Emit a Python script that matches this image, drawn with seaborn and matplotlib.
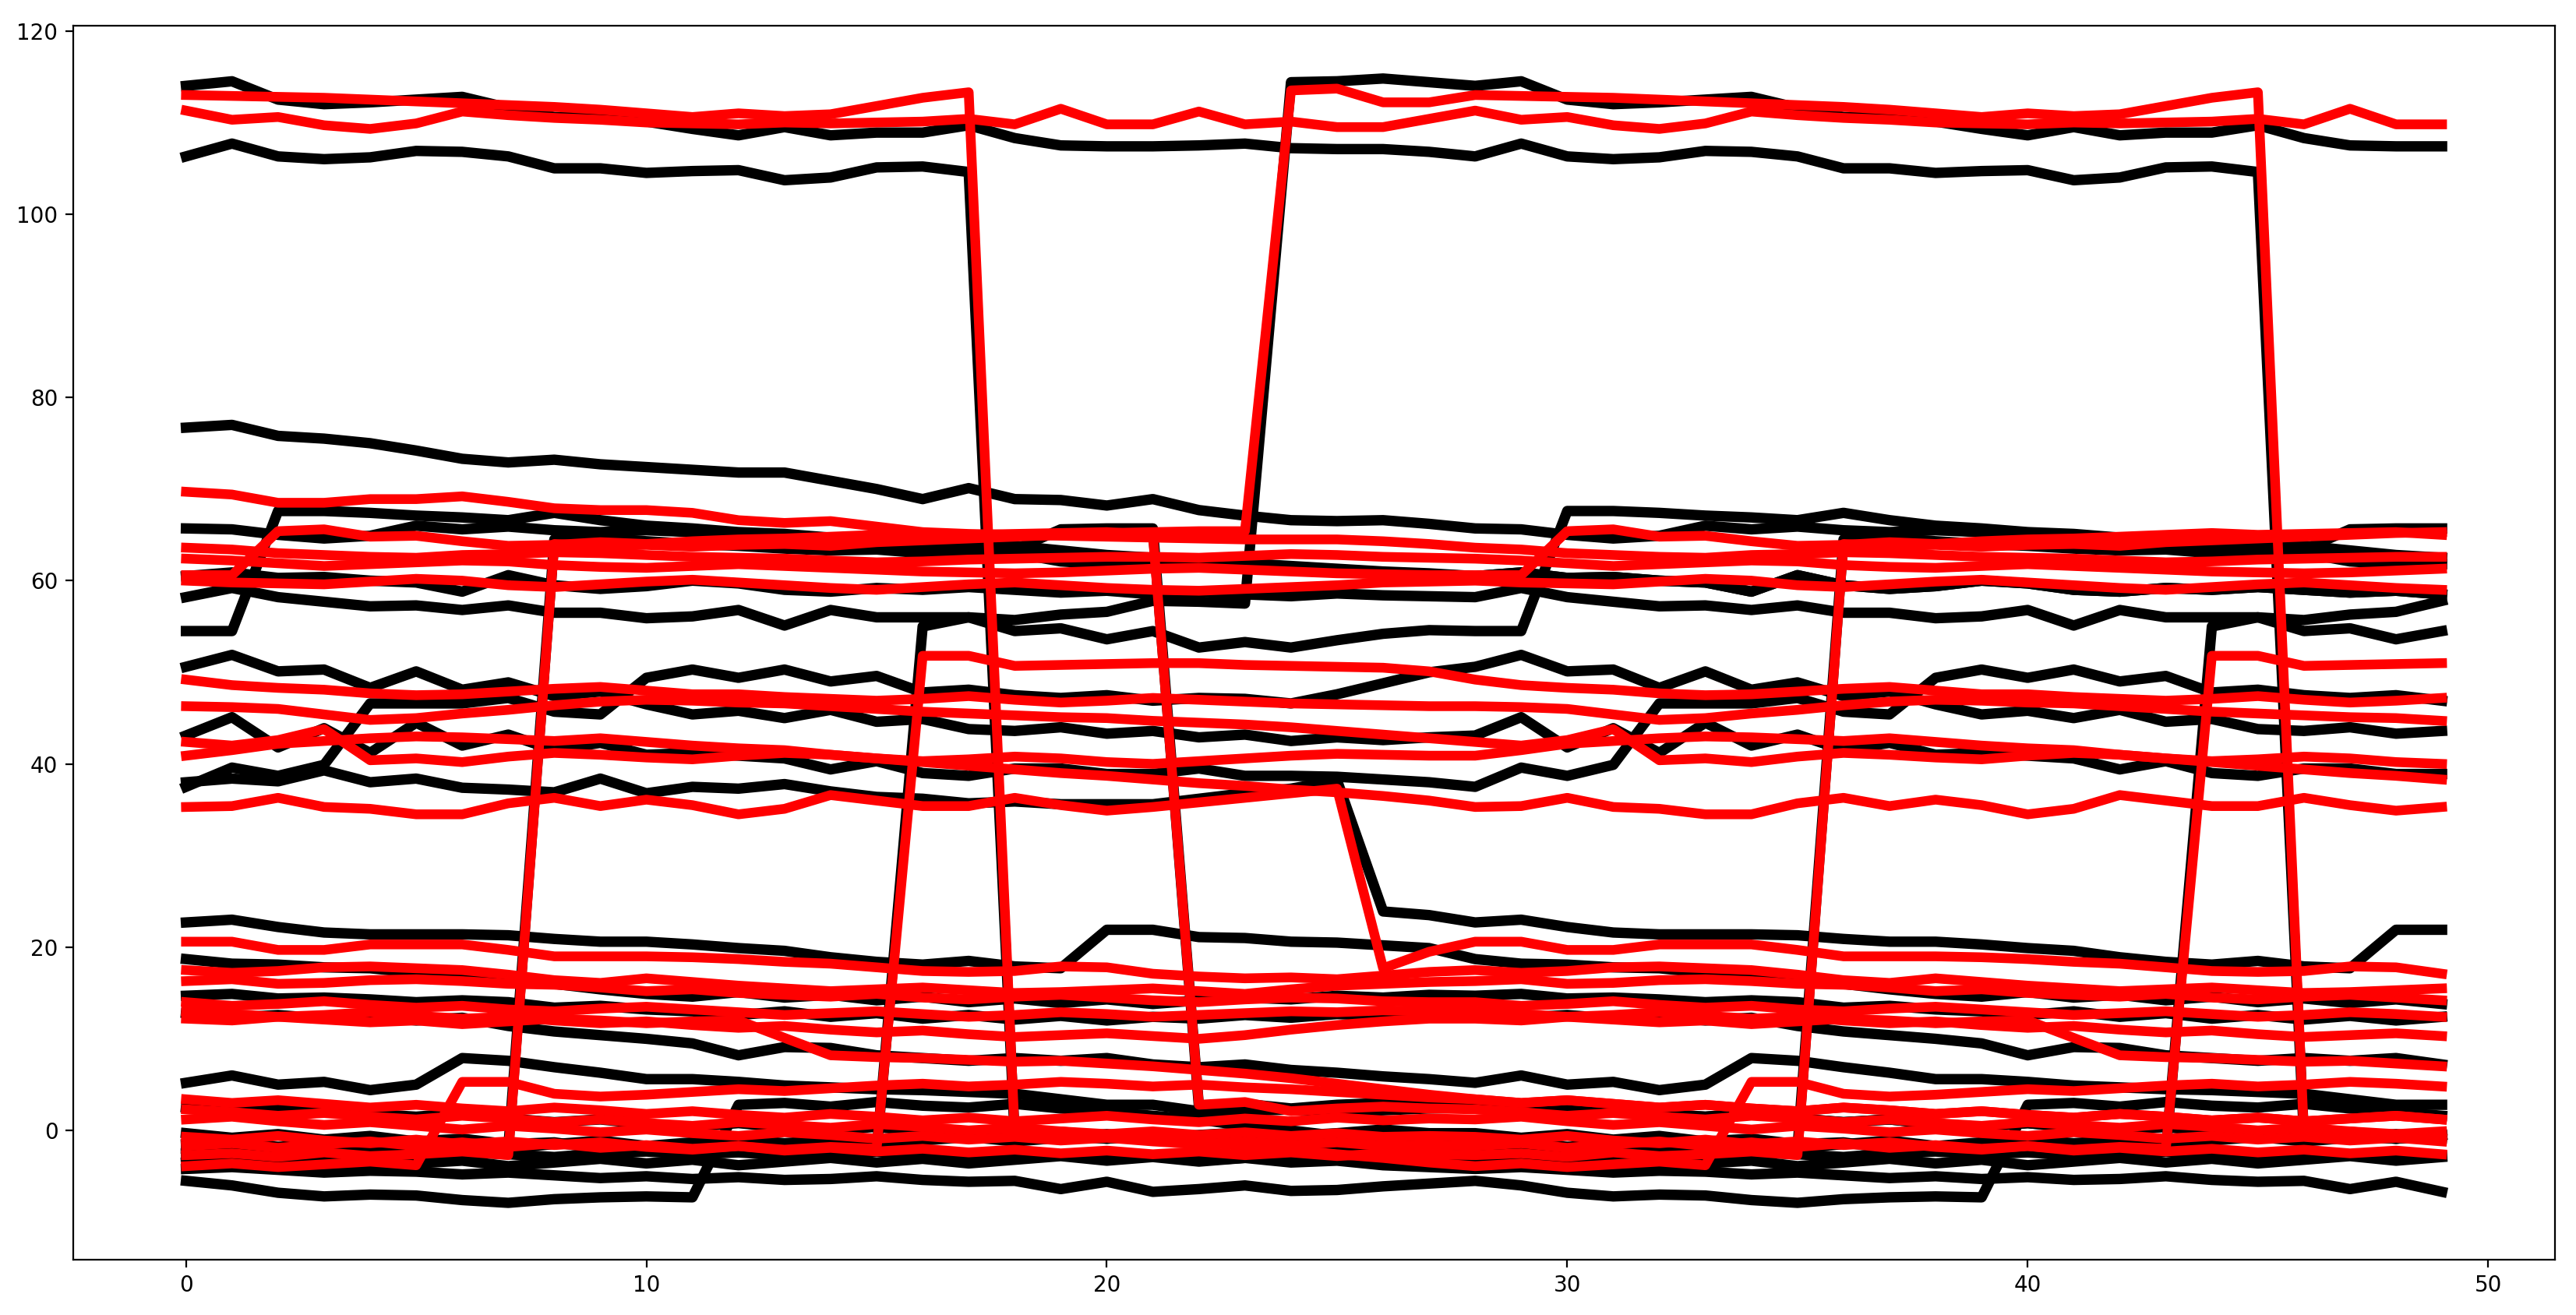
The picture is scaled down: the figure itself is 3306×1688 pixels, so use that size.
import pandas as pd
import numpy as np
import matplotlib
matplotlib.use("Agg")
import matplotlib.pyplot as plt
import seaborn as sns

# x runs 0..49. The picture repeats after 28 steps: in the second cycle each
# line follows the first-cycle path of the line named as its successor.
x = list(range(50))
CYCLE = 28

# ---- black lines, first cycle (x = 0..27) ----
b_top1 = [114.0,114.5,112.5,112.0,112.2,112.5,112.8,111.6,110.6,110.5,110.1,109.3,108.6,109.5,108.6,108.9,108.9,109.7,108.3,107.5,107.4,107.4,107.5,107.7,107.2,107.1,107.1,106.8]
b_top2 = [106.3,107.7,106.3,106.0,106.2,106.9,106.8,106.3,105.0,105.0,104.5,104.7,104.8,103.7,104.0,105.1,105.2,104.6,-0.7,-0.4,-0.9,-0.5,-0.8,-0.6,-1.0,-1.3,-1.1,-1.4]
b_x1 = [-2.5,-2.3,-2.6,-2.2,-2.5,-2.8,-2.4,-2.6,-2.9,-2.5,-2.3,-2.6,-2.4,-2.7,-2.5,-2.3,55.0,56.0,55.7,56.3,56.6,57.8,57.7,57.5,114.4,114.5,114.8,114.4]
b_76 = [76.7,77.0,75.8,75.5,75.0,74.2,73.3,72.9,73.2,72.7,72.4,72.1,71.8,71.8,70.9,70.0,68.9,70.1,68.9,68.8,68.2,68.9,67.7,67.1,66.6,66.5,66.6,66.2]
b_65 = [65.7,65.6,65.0,64.6,64.9,66.0,65.6,65.9,65.5,65.3,65.5,65.3,65.1,64.4,64.1,63.8,63.5,63.6,63.8,63.3,62.8,62.5,62.2,61.9,61.6,61.3,61.0,60.8]
b_j4 = [-2.0,-2.2,-1.8,-2.3,-2.0,-1.7,-2.1,-2.0,64.5,64.6,64.3,64.0,63.8,63.5,63.3,63.4,63.0,62.8,63.4,65.6,65.7,65.7,2.6,2.9,2.4,2.8,3.0,2.7]
b_54 = [54.5,54.5,67.6,67.6,67.4,67.1,66.9,66.6,67.4,66.6,66.0,65.7,65.3,65.1,64.7,64.3,63.8,63.6,63.0,62.1,61.8,61.8,61.5,62.0,61.5,61.2,60.9,60.7]
b_60 = [60.5,60.9,60.3,60.4,60.0,59.8,58.8,60.6,59.5,59.1,59.4,60.0,59.7,59.0,58.8,59.2,59.0,59.3,59.0,58.7,58.9,58.5,58.8,58.5,58.3,58.6,58.4,58.3]
b_58 = [58.2,59.2,58.2,57.7,57.2,57.3,56.8,57.3,56.5,56.5,55.9,56.1,56.8,55.1,56.8,56.0,56.0,56.0,54.5,54.8,53.6,54.5,52.7,53.3,52.7,53.5,54.2,54.6]
b_50 = [50.6,51.9,50.1,50.3,48.3,50.1,48.1,48.9,47.4,47.9,46.5,45.4,45.8,45.0,45.9,44.6,44.9,43.8,43.6,44.0,43.3,43.6,42.9,43.2,42.5,42.9,42.6,42.9]
b_43 = [43.1,45.1,41.8,43.9,41.2,44.5,42.0,43.2,41.5,42.3,41.0,41.2,40.9,40.6,39.4,40.3,39.0,38.7,39.5,39.5,38.9,38.9,39.5,38.7,38.7,38.6,38.3,38.0]
b_381 = [38.0,38.4,38.1,39.3,38.0,38.4,37.4,37.2,36.9,38.4,36.8,37.5,37.3,37.8,37.0,36.4,36.2,35.7,35.9,35.6,35.6,35.6,36.2,36.8,37.3,38.2,23.9,23.5]
b_382 = [37.5,39.6,38.7,39.9,46.6,46.6,46.6,47.2,45.7,45.4,49.4,50.3,49.4,50.3,49.0,49.6,47.8,48.1,47.5,47.2,47.5,46.9,47.2,47.1,46.6,47.6,48.8,50.0]
b_22 = [22.7,23.0,22.2,21.6,21.4,21.4,21.4,21.3,20.9,20.6,20.6,20.3,19.9,19.6,18.9,18.4,18.1,18.5,17.9,17.7,21.9,21.9,21.1,21.0,20.6,20.5,20.2,19.9]
b_187 = [18.7,18.2,18.1,17.8,17.7,17.2,17.0,16.8,16.0,15.4,14.9,14.6,15.1,14.5,14.8,14.2,14.6,14.0,14.4,13.9,14.3,13.8,14.2,14.5,14.3,14.7,14.5,14.8]
b_147 = [14.7,14.9,14.4,14.5,14.3,14.0,14.2,14.0,13.4,13.6,13.2,13.0,12.6,13.0,12.4,12.8,12.2,12.6,12.1,12.5,12.0,12.4,12.2,12.6,12.3,12.7,12.5,12.8]
b_128 = [12.8,12.3,12.6,12.2,12.5,12.0,12.3,11.4,10.8,10.4,10.0,9.5,8.2,9.1,9.0,8.2,7.9,7.6,7.9,7.6,7.9,7.2,6.9,7.2,6.6,6.3,5.9,5.6]
b_52 = [5.2,6.0,5.0,5.3,4.4,5.0,7.9,7.6,6.9,6.3,5.6,5.6,5.3,4.9,4.7,4.5,4.4,4.2,4.0,3.4,2.8,2.8,2.1,2.1,2.3,2.0,2.2,2.4]
b_25 = [2.5,2.0,2.6,2.2,1.8,1.5,1.9,1.3,0.9,1.2,0.7,0.4,0.8,0.3,0.0,0.4,-0.2,-0.5,-0.1,-0.6,-0.9,-0.5,-1.0,-1.4,-1.1,-1.6,-1.9,-2.3]
b_m15 = [-1.5,-1.2,-1.8,-1.4,-2.0,-1.6,-1.3,-1.9,-1.5,-1.1,-1.7,-1.3,-0.9,-1.4,-1.0,-1.5,-1.1,-0.7,-1.2,-0.8,-0.4,-0.9,-0.5,-0.2,-0.6,-0.3,0.1,-0.3]
b_m03 = [-0.3,-0.8,-0.4,-1.0,-0.6,-1.2,-0.9,-1.5,-1.3,-2.0,-1.8,-2.2,-2.4,-2.0,-2.6,-2.3,-2.8,-2.5,-3.0,-2.6,-3.1,-2.8,-3.3,-3.0,-3.5,-3.3,-3.8,-4.0]
b_m35 = [-3.5,-3.2,-3.8,-3.4,-3.0,-3.6,-3.3,-3.9,-3.5,-3.1,-3.6,-3.2,-3.8,-3.4,-3.0,-3.5,-3.1,-3.6,-3.2,-2.8,-3.3,-2.9,-3.4,-3.0,-2.7,-3.1,-2.8,-3.3]
b_m42 = [-4.2,-4.0,-4.3,-4.6,-4.4,-4.5,-4.8,-4.6,-4.9,-5.2,-5.0,-5.3,-5.1,-5.4,-5.3,-5.0,-5.4,-5.6,-5.5,-6.4,-5.6,-6.7,-6.4,-6.0,-6.6,-6.5,-6.1,-5.8]
b_m55 = [-5.5,-6.0,-6.8,-7.2,-7.0,-7.1,-7.6,-7.9,-7.5,-7.3,-7.2,-7.3,2.8,3.0,2.6,3.1,2.7,2.5,2.9,2.4,2.0,1.6,1.2,0.5,0.0,-0.6,-1.2,-1.7]

black_lines = [
    ("top1", b_top1, "top2"), ("top2", b_top2, "m15"), ("x1", b_x1, "top1"),
    ("76", b_76, "65"), ("65", b_65, "60"), ("j4", b_j4, "25"),
    ("54", b_54, "60"), ("60", b_60, "58"), ("58", b_58, "54"),
    ("50", b_50, "43"), ("43", b_43, "382"), ("381", b_381, "22"),
    ("382", b_382, "50"), ("22", b_22, "187"), ("187", b_187, "147"),
    ("147", b_147, "128"), ("128", b_128, "52"), ("52", b_52, "25"),
    ("25", b_25, "x1"), ("m15", b_m15, "m03"), ("m03", b_m03, "m42"),
    ("m35", b_m35, "m35"), ("m42", b_m42, "m55"), ("m55", b_m55, "j4"),
]

# ---- red lines, first cycle (x = 0..27) ----
r_top1 = [113.0,112.9,112.8,112.7,112.5,112.3,112.1,111.9,111.7,111.4,111.0,110.6,111.0,110.7,110.9,111.8,112.7,113.3,-0.4,-0.1,-0.6,-0.9,-1.3,-1.7,-2.1,-2.6,-3.0,-3.5]
r_top2 = [111.3,110.3,110.6,109.7,109.3,109.9,111.2,110.8,110.5,110.3,110.0,109.9,109.8,110.0,109.9,110.0,110.1,110.4,109.8,111.5,109.8,109.8,111.2,109.8,110.1,109.5,109.5,110.4]
r_x1 = [-2.7,-2.5,-2.9,-2.4,-2.8,-2.6,-2.3,-2.7,64.0,63.8,63.9,63.7,63.9,64.0,63.8,64.2,64.4,64.6,64.8,65.0,65.2,65.3,65.4,65.4,113.5,113.7,112.2,112.2]
r_69 = [69.7,69.4,68.5,68.5,68.9,68.9,69.2,68.6,67.9,67.7,67.7,67.4,66.6,66.3,66.5,65.9,65.3,65.1,65.0,64.9,64.8,64.7,64.6,64.5,64.5,64.5,64.3,64.0]
r_636 = [63.6,63.4,63.0,62.8,62.6,62.5,62.8,62.9,63.1,63.0,62.8,62.6,62.5,62.4,62.2,62.0,62.1,62.3,62.4,62.5,62.6,62.6,62.5,62.7,62.9,62.8,62.6,62.5]
r_624 = [62.4,62.2,61.9,61.6,61.8,62.0,62.2,62.1,61.7,61.5,61.4,61.6,61.8,61.6,61.4,61.2,61.0,60.9,60.8,60.9,61.1,61.3,61.4,61.2,61.0,60.8,60.7,60.6]
r_j1 = [60.6,60.6,65.4,65.6,64.8,64.9,64.3,63.8,63.9,64.2,64.0,64.3,64.5,64.6,64.8,65.0,65.2,65.0,65.1,65.2,65.3,65.0,2.8,3.1,2.1,2.4,2.6,2.4]
r_600 = [60.0,59.8,59.7,59.6,59.9,60.2,60.0,59.5,59.3,59.6,59.9,60.1,59.8,59.5,59.2,59.0,59.3,59.6,59.8,59.5,59.2,59.0,58.9,59.1,59.3,59.5,59.8,59.9]
r_515 = [-1.7,-1.4,-1.9,-1.5,-1.2,-1.7,-1.3,-1.8,-1.4,-1.9,-1.6,-2.0,-1.7,-2.1,-1.8,-2.0,51.8,51.8,50.7,50.8,50.9,51.0,51.0,50.8,50.7,50.6,50.5,50.1]
r_492 = [49.2,48.6,48.3,48.1,47.7,47.5,47.6,47.9,48.2,48.4,48.0,47.6,47.6,47.3,47.1,46.9,47.1,47.4,47.0,46.7,46.9,47.2,47.0,46.8,46.6,46.5,46.4,46.3]
r_463 = [46.3,46.2,46.0,45.4,44.8,45.0,45.5,45.9,46.4,46.8,47.0,46.9,46.7,46.6,46.3,46.0,45.7,45.5,45.3,45.1,45.0,44.7,44.5,44.3,44.0,43.6,43.2,42.8]
r_424 = [42.4,42.0,42.6,43.8,40.4,40.6,40.2,40.8,41.2,41.0,40.7,40.5,40.9,41.2,41.0,40.6,40.3,40.5,40.8,40.6,40.2,40.0,40.3,40.6,40.9,41.1,41.0,40.9]
r_409 = [40.9,41.5,42.2,42.5,42.8,43.0,42.9,42.7,42.5,42.8,42.4,42.0,41.7,41.5,41.0,40.6,40.2,39.8,39.4,39.0,38.7,38.3,37.9,37.6,37.2,36.9,36.5,36.0]
r_353 = [35.3,35.4,36.3,35.3,35.1,34.5,34.5,35.7,36.3,35.4,36.1,35.5,34.5,35.1,36.6,36.0,35.4,35.4,36.3,35.5,34.9,35.3,35.8,36.3,36.8,37.3,17.7,19.5]
r_206 = [20.6,20.6,19.7,19.7,20.3,20.3,20.3,19.7,19.0,19.0,19.0,18.9,18.7,18.4,18.2,17.8,17.4,17.3,17.4,17.9,17.8,17.1,16.8,16.6,16.7,16.5,16.9,17.3]
r_175 = [17.5,17.2,17.4,17.8,17.9,17.7,17.5,17.0,16.4,16.1,16.6,16.2,15.8,15.5,15.2,15.4,15.6,15.3,15.0,15.1,15.3,15.5,15.2,14.9,15.4,15.8,16.0,16.2]
r_163 = [16.3,16.5,16.0,16.1,16.4,16.5,16.3,16.0,15.9,15.6,15.2,15.4,15.0,14.8,14.6,14.9,14.5,14.3,14.6,14.8,14.5,14.2,14.0,14.3,14.5,14.4,14.1,14.0]
r_140 = [14.0,13.6,13.8,14.1,13.7,13.4,13.6,13.2,13.0,13.3,13.5,13.2,12.9,12.6,12.8,13.0,12.7,12.4,12.6,12.9,12.7,12.4,12.6,12.8,13.0,12.9,13.1,13.0]
r_130 = [13.0,12.7,12.4,12.6,12.9,12.5,12.2,12.4,12.0,11.7,11.9,11.5,11.2,11.4,11.0,10.7,10.9,10.5,10.2,10.4,10.6,10.3,10.0,10.4,11.0,11.5,11.9,12.2]
r_122 = [12.2,12.0,12.4,12.1,11.8,12.0,11.6,11.9,12.2,12.0,11.7,11.9,12.0,10.1,8.2,8.0,7.9,7.7,7.5,7.6,7.3,7.0,6.6,6.2,5.7,5.1,4.5,3.9]
r_34 = [3.4,3.0,3.3,2.9,2.5,2.8,2.4,2.1,2.5,2.2,1.8,2.1,1.7,1.4,1.8,1.5,1.1,1.4,1.0,1.3,1.6,1.2,0.9,1.3,1.0,1.4,1.1,1.3]
r_23 = [2.3,2.0,1.6,1.9,1.5,1.2,1.6,1.3,0.9,1.2,0.8,0.5,0.9,0.6,0.3,0.7,0.4,0.0,0.3,-0.1,-0.4,-0.1,-0.5,-0.2,-0.6,-0.3,-0.7,-0.6]
r_12 = [1.2,1.5,1.0,0.6,0.9,0.5,0.1,0.5,0.2,-0.2,0.1,-0.3,-0.6,-0.2,-0.5,-0.9,-0.6,-1.0,-0.7,-1.1,-0.8,-1.2,-1.5,-1.2,-1.6,-1.3,-1.7,-1.6]
r_m07 = [-0.7,-1.0,-0.6,-1.1,-1.4,-1.0,-1.5,-1.2,-1.6,-1.3,-1.8,-2.1,-1.7,-2.2,-1.9,-2.3,-2.0,-2.4,-2.1,-2.5,-2.2,-2.6,-2.3,-2.7,-2.4,-2.8,-2.5,-2.6]
r_m39 = [-3.9,-3.6,-4.0,-3.7,-3.4,-3.8,5.3,5.3,4.0,3.7,3.9,4.2,4.5,4.3,4.6,4.9,5.1,4.8,5.0,5.3,5.1,4.8,5.0,4.7,4.5,4.2,3.9,3.6]

red_lines = [
    ("top1", r_top1, "m39"), ("top2", r_top2, "top2"), ("x1", r_x1, "top1"),
    ("69", r_69, "636"), ("636", r_636, "624"), ("624", r_624, "j1"),
    ("j1", r_j1, "23"), ("600", r_600, "600"), ("515", r_515, "492"),
    ("492", r_492, "463"), ("463", r_463, "424"), ("424", r_424, "409"),
    ("409", r_409, "353"), ("353", r_353, "206"), ("206", r_206, "175"),
    ("175", r_175, "163"), ("163", r_163, "140"), ("140", r_140, "130"),
    ("130", r_130, "122"), ("122", r_122, "34"), ("34", r_34, "12"),
    ("23", r_23, "m07"), ("12", r_12, "515"), ("m07", r_m07, "x1"),
    ("m39", r_m39, "34"),
]


def long_table(lines):
    paths = {name: vals for name, vals, _ in lines}
    rows = []
    for name, vals, nxt in lines:
        ys = vals + paths[nxt][:len(x) - CYCLE]
        for xi, yi in zip(x, ys):
            rows.append({"line": name, "x": xi, "y": yi})
    return pd.DataFrame(rows)


df_black = long_table(black_lines)
df_red = long_table(red_lines)

fig = plt.figure(figsize=(16.53, 8.44), dpi=200)
ax = fig.add_axes([0.0284, 0.0421, 0.9634, 0.9386])

sns.lineplot(data=df_black, x="x", y="y", units="line", estimator=None,
             color="black", linewidth=4.8, ax=ax)
sns.lineplot(data=df_red, x="x", y="y", units="line", estimator=None,
             color="red", linewidth=4.5, ax=ax)

ax.set_xlim(-2.45, 51.45)
ax.set_ylim(-14.1, 120.6)
ax.set_xlabel("")
ax.set_ylabel("")

fig.savefig("out.png", dpi=200)
